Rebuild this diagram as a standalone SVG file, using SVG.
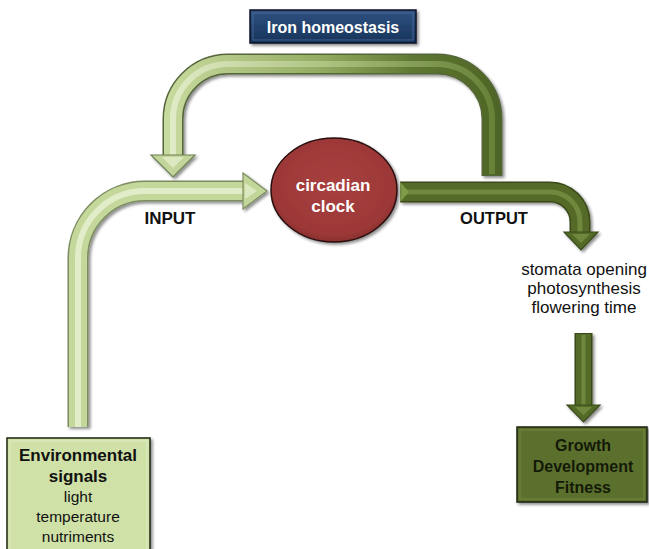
<svg xmlns="http://www.w3.org/2000/svg" width="649" height="549" viewBox="0 0 649 549">
<defs>
<style>
.t{font-family:"Liberation Sans",Arial,sans-serif;text-anchor:middle}
.b{font-weight:bold}
.tube{fill:none;stroke-linejoin:round}
</style>
<filter id="sh" x="-20%" y="-20%" width="140%" height="140%">
<feGaussianBlur in="SourceAlpha" stdDeviation="1.5"/>
<feOffset dx="1.5" dy="2" result="o"/>
<feComponentTransfer><feFuncA type="linear" slope="0.45"/></feComponentTransfer>
<feMerge><feMergeNode/><feMergeNode in="SourceGraphic"/></feMerge>
</filter>
<linearGradient id="fb" gradientUnits="userSpaceOnUse" x1="163" y1="0" x2="502" y2="0">
<stop offset="0" stop-color="#c9dca0"/>
<stop offset="0.45" stop-color="#95ad64"/>
<stop offset="0.75" stop-color="#5e7630"/>
<stop offset="1" stop-color="#4d6425"/>
</linearGradient>
<linearGradient id="fbh" gradientUnits="userSpaceOnUse" x1="163" y1="0" x2="502" y2="0">
<stop offset="0" stop-color="#eef5dc"/>
<stop offset="0.5" stop-color="#b8cc8c"/>
<stop offset="1" stop-color="#6f8a3c"/>
</linearGradient>
<radialGradient id="cg" cx="0.5" cy="0.45" r="0.6">
<stop offset="0" stop-color="#a8403f"/>
<stop offset="0.8" stop-color="#9c3837"/>
<stop offset="1" stop-color="#7e2a2a"/>
</radialGradient>
<linearGradient id="ig" x1="0" y1="0" x2="0" y2="1">
<stop offset="0" stop-color="#2f5282"/>
<stop offset="1" stop-color="#17345a"/>
</linearGradient>
</defs>
<rect width="649" height="549" fill="#fff"/>

<g id="connectors">
<!-- feedback loop -->
<g filter="url(#sh)">
<path class="tube" d="M173,157 L173,119 A55,55 0 0 1 228,64 L437,64 A55,55 0 0 1 492,119 L492,176" stroke="#56663a" stroke-width="21"/>
<path class="tube" d="M173,157 L173,119 A55,55 0 0 1 228,64 L437,64 A55,55 0 0 1 492,119 L492,175" stroke="url(#fb)" stroke-width="18"/>
<path class="tube" d="M173,157 L173,119 A55,55 0 0 1 228,64 L437,64 A55,55 0 0 1 492,119 L492,174" stroke="url(#fbh)" stroke-width="6" opacity="0.7"/>
<polygon points="151,155 195,155 173,177" fill="#c2d59a" stroke="#6f7f55" stroke-width="1.2"/>
<polygon points="162,157 184,157 173,168" fill="#e6efd0" opacity="0.7"/>
</g>
<!-- input -->
<g filter="url(#sh)">
<path class="tube" d="M78,427 L78,258 A67,67 0 0 1 145,191 L245,191" stroke="#7d8c60" stroke-width="21"/>
<path class="tube" d="M78,427 L78,258 A67,67 0 0 1 145,191 L245,191" stroke="#c4d89b" stroke-width="18"/>
<path class="tube" d="M78,427 L78,258 A67,67 0 0 1 145,191 L245,191" stroke="#e9f2d5" stroke-width="6" opacity="0.8"/>
<polygon points="243,173 267,191 243,209" fill="#c2d69a" stroke="#7d8c60" stroke-width="1.2"/>
<polygon points="245,183 257,191 245,199" fill="#e6efd0" opacity="0.7"/>
</g>
<!-- output -->
<g filter="url(#sh)">
<path class="tube" d="M400,192 L550,192 A30,30 0 0 1 580,222 L580,233" stroke="#3a4a1a" stroke-width="21"/>
<path class="tube" d="M400,192 L550,192 A30,30 0 0 1 580,222 L580,233" stroke="#546b28" stroke-width="18"/>
<path class="tube" d="M400,192 L550,192 A30,30 0 0 1 580,222 L580,233" stroke="#7a9445" stroke-width="5" opacity="0.7"/>
<polygon points="400,182 409,192 400,202" fill="#7f9a48"/>
<polygon points="564,232 598,232 581,250" fill="#536a28" stroke="#3a4a1a" stroke-width="1.2"/>
<polygon points="572,234 590,234 581,243" fill="#7a9445" opacity="0.7"/>
</g>
<!-- to growth -->
<g filter="url(#sh)">
<path class="tube" d="M583.5,333 L583.5,406" stroke="#3a4a1a" stroke-width="18"/>
<path class="tube" d="M583.5,334 L583.5,406" stroke="#546b28" stroke-width="15"/>
<path class="tube" d="M583.5,335 L583.5,406" stroke="#7a9445" stroke-width="4" opacity="0.7"/>
<polygon points="567,405 600,405 583.5,422" fill="#536a28" stroke="#3a4a1a" stroke-width="1.2"/>
<polygon points="575,407 592,407 583.5,415" fill="#7a9445" opacity="0.7"/>
</g>
<text class="t b" x="170" y="224" font-size="17" fill="#111">INPUT</text>
<text class="t b" x="494" y="224" font-size="16.5" fill="#111">OUTPUT</text>
</g>

<g id="iron">
<rect x="250" y="10" width="166" height="33" fill="url(#ig)" stroke="#0a1628" stroke-width="1.5" filter="url(#sh)"/>
<rect x="253" y="13" width="160" height="27" fill="none" stroke="#5a7cac" stroke-width="1" opacity="0.6"/>
<text class="t b" x="333" y="33" font-size="16" fill="#fff">Iron homeostasis</text>
</g>

<g id="clock">
<ellipse cx="334" cy="190" rx="63" ry="52" fill="url(#cg)" stroke="#2a0e0e" stroke-width="1.5" filter="url(#sh)"/>
<text class="t b" x="333" y="191" font-size="17" fill="#fff">circadian</text>
<text class="t b" x="333" y="212" font-size="17" fill="#fff">clock</text>
</g>

<g id="outputs">
<text class="t" x="584" y="275" font-size="17" fill="#111">stomata opening</text>
<text class="t" x="584" y="294" font-size="17" fill="#111">photosynthesis</text>
<text class="t" x="584" y="313" font-size="17" fill="#111">flowering time</text>
</g>

<g id="env">
<rect x="7" y="438" width="143" height="115" fill="#cfe1a7" stroke="#1e2412" stroke-width="1.5" filter="url(#sh)"/>
<rect x="10" y="441" width="137" height="110" fill="none" stroke="#e8f1d2" stroke-width="1" opacity="0.7"/>
<text class="t b" x="78" y="461" font-size="17" fill="#111">Environmental</text>
<text class="t b" x="78" y="482" font-size="17" fill="#111">signals</text>
<text class="t" x="78" y="502" font-size="15.5" fill="#111">light</text>
<text class="t" x="78" y="522" font-size="15.5" fill="#111">temperature</text>
<text class="t" x="78" y="542" font-size="15.5" fill="#111">nutriments</text>
</g>

<g id="growth">
<rect x="517" y="427" width="130" height="75" fill="#5b6f2d" stroke="#1c230c" stroke-width="1.5" filter="url(#sh)"/>
<rect x="520" y="430" width="124" height="69" fill="none" stroke="#7d9346" stroke-width="1" opacity="0.7"/>
<text class="t b" x="583" y="451" font-size="16" fill="#141a08">Growth</text>
<text class="t b" x="583" y="472" font-size="16" fill="#141a08">Development</text>
<text class="t b" x="583" y="493" font-size="16" fill="#141a08">Fitness</text>
</g>
</svg>
